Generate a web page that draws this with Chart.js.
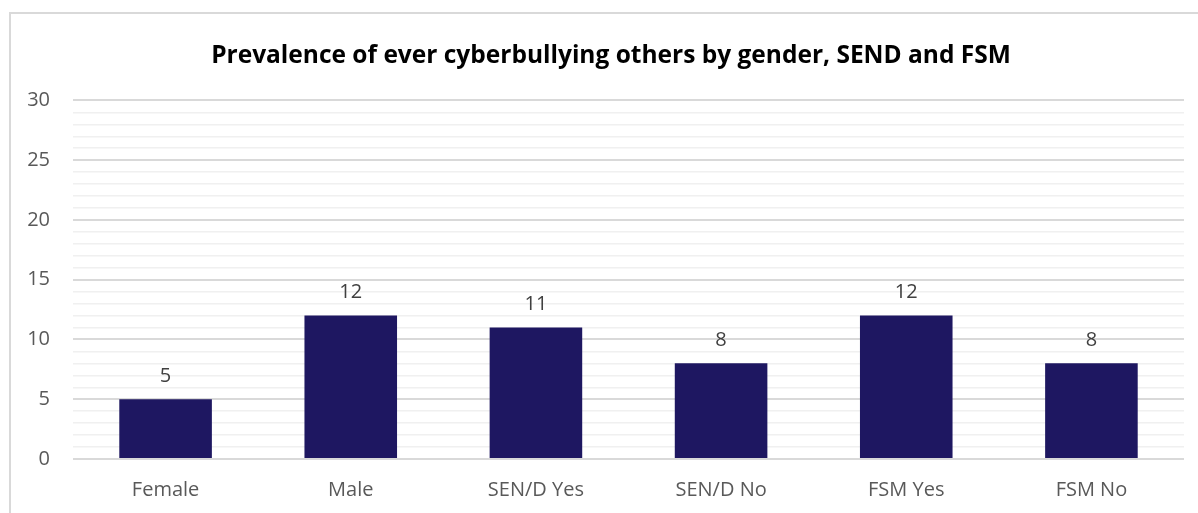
<!DOCTYPE html>
<html>
<head>
<meta charset="utf-8">
<script src="https://cdn.jsdelivr.net/npm/chart.js@4/dist/chart.umd.min.js"></script>
<style>
  body { margin: 0; overflow: hidden; background: #fff; }
  #frame { position: absolute; left: 9px; top: 12px; width: 1400px; height: 800px; border: 2px solid #d9d9d9; }
  #bully_canvas { position: absolute; left: 0; top: 0; }
</style>
</head>
<body>
<div id="frame"></div>
<canvas id="bully_canvas" width="1198" height="513"></canvas>
<script>
var categories = ["Female", "Male", "SEN/D Yes", "SEN/D No", "FSM Yes", "FSM No"];
var prevalence = [5, 12, 11, 8, 12, 8];
var yTicks = [0, 5, 10, 15, 20, 25, 30];

var fontFamily = "'Open Sans', 'Liberation Sans', sans-serif";

// draws the value above each bar
var valueLabels = {
    id: "valueLabels",
    afterDatasetsDraw: function (chart) {
        var ctx = chart.ctx;
        var meta = chart.getDatasetMeta(0);
        ctx.save();
        ctx.font = "20px " + fontFamily;
        ctx.fillStyle = "#404040";
        ctx.textAlign = "center";
        ctx.textBaseline = "bottom";
        meta.data.forEach(function (bar, i) {
            ctx.fillText(prevalence[i], bar.x, bar.y - 13);
        });
        ctx.restore();
    },
};

var bullyChart = new Chart(document.getElementById("bully_canvas"), {
    type: "bar",
    data: {
        labels: categories,
        datasets: [
            {
                data: prevalence,
                backgroundColor: "#1E1761",
                barPercentage: 0.5,
                categoryPercentage: 1,
            },
        ],
    },
    options: {
        responsive: false,
        animation: false,
        layout: {
            // negative right padding pushes the title centre to the right;
            // the empty right axis keeps the plot edge where it belongs
            padding: { left: 0, right: -24, top: 0, bottom: 0 },
        },
        plugins: {
            legend: { display: false },
            tooltip: { enabled: false },
            title: {
                display: true,
                text: "Prevalence of ever cyberbullying others by gender, SEND and FSM",
                color: "#000",
                font: { family: fontFamily, size: 24.5, weight: "bold" },
                padding: { top: 41, bottom: 30 },
            },
        },
        scales: {
            x: {
                grid: { display: false },
                border: { display: false },
                ticks: {
                    color: "#595959",
                    font: { family: fontFamily, size: 20 },
                    padding: 11,
                },
            },
            y: {
                min: 0,
                max: 30,
                afterFit: function (scale) {
                    scale.width = 73;
                },
                border: { display: false },
                grid: {
                    drawTicks: false,
                    color: function (c) {
                        return yTicks.indexOf(c.tick.value) >= 0 ? "#d9d9d9" : "#f0f0f0";
                    },
                    lineWidth: function (c) {
                        return yTicks.indexOf(c.tick.value) >= 0 ? 2 : 1.5;
                    },
                },
                ticks: {
                    stepSize: 1,
                    autoSkip: false,
                    padding: 23,
                    color: "#595959",
                    font: { family: fontFamily, size: 20 },
                    callback: function (v) {
                        return yTicks.indexOf(v) >= 0 ? v : "";
                    },
                },
            },
            yRight: {
                position: "right",
                min: 0,
                max: 30,
                grid: { display: false },
                border: { display: false },
                ticks: { display: false },
                afterFit: function (scale) {
                    scale.width = 38;
                },
            },
        },
    },
    plugins: [valueLabels],
});
</script>
</body>
</html>
